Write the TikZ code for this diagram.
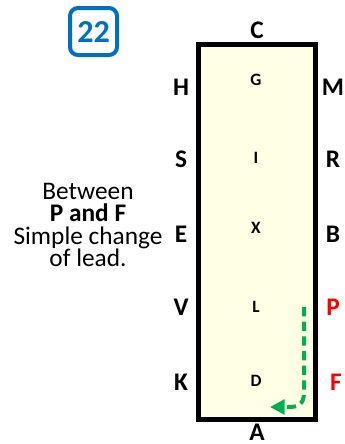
\documentclass[tikz,border=0pt]{standalone}
\usepackage{fontspec}
\setmainfont{Carlito}
\usetikzlibrary{arrows.meta,positioning}
\definecolor{arenafill}{RGB}{255,255,229}
\definecolor{badgeblue}{RGB}{0,112,192}
\definecolor{leadgreen}{RGB}{0,176,80}
\tikzset{
    letter/.style={font=\bfseries\fontsize{19}{19}\selectfont, inner sep=0pt},
    midletter/.style={font=\bfseries\fontsize{13}{13}\selectfont, inner sep=0pt},
    changeletter/.style={letter, text=red}
}

\begin{document}
\begin{tikzpicture}[x=0.75pt, y=-0.75pt]
    \useasboundingbox (0, 0) rectangle (345, 444);
    \draw[badgeblue, line width=3pt, rounded corners=6pt] (70, 8) rectangle (117, 55);
    \node[text=badgeblue, font=\bfseries\fontsize{24}{24}\selectfont] (num) at (93.5, 32) {22};
    \draw[line width=3.75pt, fill=arenafill] (198.5, 44.5) rectangle (315.5, 419.5);
    \node[letter] (C) at (257, 30) {C};
    \node[letter] (A) at (257, 432) {A};
    \node[letter] (H) at (181, 87) {H};
    \node[letter] (S) at (181, 159) {S};
    \node[letter] (E) at (181, 234) {E};
    \node[letter] (V) at (181, 307) {V};
    \node[letter] (K) at (181, 382) {K};
    \node[letter] (M) at (333, 87) {M};
    \node[letter] (R) at (333, 159) {R};
    \node[letter] (B) at (333, 234) {B};
    \node[changeletter] (P) at (333, 307) {P};
    \node[changeletter] (F) at (336, 382) {F};
    \node[midletter] (G) at (256, 80) {G};
    \node[midletter] (I) at (256, 158) {I};
    \node[midletter] (X) at (256, 228) {X};
    \node[midletter] (L) at (256, 307) {L};
    \node[midletter] (D) at (256, 381) {D};
    \node[align=center, inner sep=0pt, font=\fontsize{19}{16.8}\selectfont] (note) at (88, 225)
        {Between\\\textbf{P and F}\\Simple change\\of lead.};
    \coordinate (go) at (304, 307);
    \coordinate (turn) at (304, 392);
    \coordinate (stop) at (270, 407);
    \draw[leadgreen, line width=3pt, dash pattern=on 7pt off 4pt,
        -{Triangle[length=11pt, width=11pt]}]
        (go) -- (turn) .. controls (304, 405) and (298, 407) .. (288, 407) -- (stop);
\end{tikzpicture}
\end{document}
